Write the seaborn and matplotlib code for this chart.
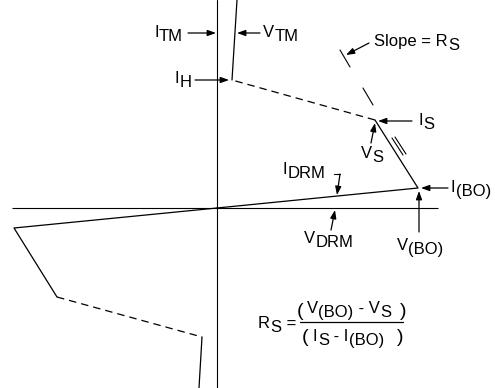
import numpy as np
import pandas as pd
import matplotlib
matplotlib.use("Agg")
import matplotlib.pyplot as plt
import seaborn as sns

# SIDAC / thyristor I-V characteristic (schematic units, origin at axis crossing)
fwd_v = [0, 201, 158]          # off-state -> breakover -> switching point
fwd_i = [0, 20, 88]
neg_v = [158, 15]              # negative resistance region (dashed) to holding point
neg_i = [88, 128]
on_v = [15, 20]                # on-state
on_i = [128, 208]
rev_v = [0, -203, -160]
rev_i = [0, -20, -89]
rev_neg_v = [-160, -15]
rev_neg_i = [-89, -129]
rev_on_v = [-15, -18]
rev_on_i = [-129, -180]

sns.set_theme(style="white")
plt.rcParams['font.family'] = ['Liberation Sans', 'DejaVu Sans']
plt.rcParams['text.color'] = 'black'

fig = plt.figure(figsize=(4.95, 3.88), dpi=100)
ax = fig.add_axes([0, 0, 1, 1])
ax.set_xlim(-217, 278)
ax.set_ylim(-180, 208)
ax.set_axis_off()

OX, OY = 217, 208
def P(px, py):
    # picture pixel -> chart units
    return (px - OX, OY - py)

LW = 0.9
DASH = (0, (6, 4))

# axes
ax.hlines(0, -205, 221, color='black', lw=0.8)
ax.axvline(0, color='black', lw=0.8)

# curves
for v, i, ls in [(fwd_v, fwd_i, '-'), (neg_v, neg_i, DASH), (on_v, on_i, '-'),
                 (rev_v, rev_i, '-'), (rev_neg_v, rev_neg_i, DASH), (rev_on_v, rev_on_i, '-')]:
    sns.lineplot(x=v, y=i, sort=False, estimator=None, color='black', lw=LW,
                 linestyle=ls, ax=ax)

# slope construction line (long dashes, last one doubled)
for (a, b) in [((340, 50), (350, 67)), ((363, 88), (373, 105)),
               ((392, 138), (403, 155)), ((395, 137), (406, 154))]:
    (x0, y0), (x1, y1) = P(*a), P(*b)
    ax.plot([x0, x1], [y0, y1], color='black', lw=0.8)

# bracket for I_DRM
(x0, y0), (x1, y1) = P(334, 174), P(340, 174)
ax.plot([x0, x1], [y0, y1], color='black', lw=0.8)

arrows = [((188, 33), (216, 33)), ((260, 33), (237, 33)), ((195, 80), (229, 80)),
          ((369, 43), (346, 55)), ((412, 121), (378, 121)), ((371, 143), (375, 123)),
          ((448, 188), (421, 188)), ((419, 232), (419, 191)), ((340, 174), (337, 195)),
          ((331, 230), (335, 210))]
for tail, tip in arrows:
    ax.annotate('', xy=P(*tip), xytext=P(*tail),
                arrowprops=dict(arrowstyle='-|>,head_length=0.5,head_width=0.18',
                                mutation_scale=10, color='black', lw=0.9,
                                shrinkA=0, shrinkB=0))

FS = 12
def chain(px, py, parts, fs=FS):
    # letter followed by lowered, same-size subscript pieces (marked with "_")
    prev = ax.text(*P(px, py), parts[0], fontsize=fs, va='baseline', ha='left')
    low = False
    for s in parts[1:]:
        sub = s.startswith('_')
        txt = s[1:] if sub else s
        dy = 0
        if sub and not low:
            dy = -3
        elif low and not sub:
            dy = 3
        prev = ax.annotate(txt, xy=(1, 0), xycoords=prev, xytext=(0.2, dy),
                           textcoords='offset points', va='bottom', ha='left', fontsize=fs)
        low = sub
    return prev

chain(154, 37, ['I', '_TM'])
chain(263, 37, ['V', '_TM'])
chain(175, 83, ['I', '_H'])
chain(374, 46, ['Slope = R', '_S'])
chain(418, 125, ['I', '_S'])
chain(361, 158, ['V', '_S'])
chain(451, 192, ['I', '_(BO)'])
chain(397, 250, ['V', '_(BO)'])
chain(283, 174, ['I', '_DRM'])
chain(304, 243, ['V', '_DRM'])

# formula
chain(258, 328, ['R', '_S', ' ='])
chain(307, 313, ['V', '_(BO)', ' - V', '_S'])
chain(313, 341, ['I', '_S', ' - I', '_(BO)'])
ax.text(*P(297, 311), '(', fontsize=14, va='center', ha='left')
ax.text(*P(406, 311), ')', fontsize=14, va='center', ha='right')
ax.text(*P(302, 338), '(', fontsize=14, va='center', ha='left')
ax.text(*P(403, 338), ')', fontsize=14, va='center', ha='right')
(x0, y0), (x1, y1) = P(300, 322), P(403, 322)
ax.plot([x0, x1], [y0, y1], color='black', lw=0.9)

fig.savefig('out.png', dpi=100, facecolor='white')
